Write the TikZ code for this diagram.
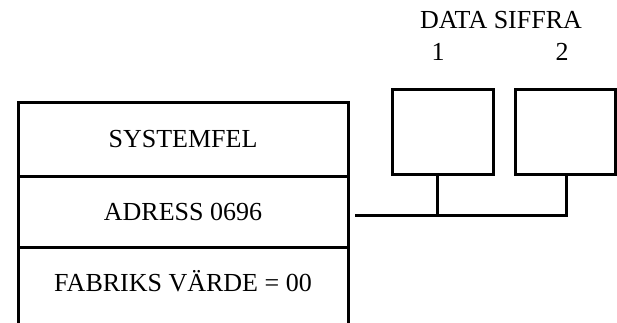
\documentclass[tikz,border=0pt]{standalone}
\usepackage{fontspec}
\setmainfont{Liberation Serif}
\begin{document}
\begin{tikzpicture}[x=1pt,y=-1pt,
  every node/.style={font=\fontsize{26}{30}\selectfont, inner sep=0pt, outer sep=0pt},
  cell/.style={draw, line width=3pt, minimum width=330pt, anchor=center},
  digitbox/.style={draw, line width=3pt, minimum height=84pt},
  wire/.style={line width=3pt}]
\useasboundingbox (0,0) rectangle (617,323);
\node[cell, minimum height=73pt] (c1) at (183,139.5) {SYSTEMFEL};
\node[cell, minimum height=71pt] (c2) at (183,211.5) {ADRESS 0696};
\node (c3) at (183,281) {FABRIKS VÄRDE = 00};
\draw[wire] (c2.south west) -- ++(0,80);
\draw[wire] (c2.south east) -- ++(0,80);
\node[digitbox, minimum width=101pt] (b1) at (442.5,132) {};
\node[digitbox, minimum width=100.5pt] (b2) at (565.25,132) {};
\node (title) at (501,20) {DATA SIFFRA};
\node (n1) at (438,52) {1};
\node (n2) at (562,52) {2};
\coordinate (start) at (355,215);
\coordinate (s1) at ([xshift=-5.5pt]b1.south);
\coordinate (s2) at ([xshift=0.75pt]b2.south);
\draw[wire] (start) -- (s2 |- start) -- (s2);
\draw[wire] (s1) -- (s1 |- start);
\end{tikzpicture}
\end{document}
